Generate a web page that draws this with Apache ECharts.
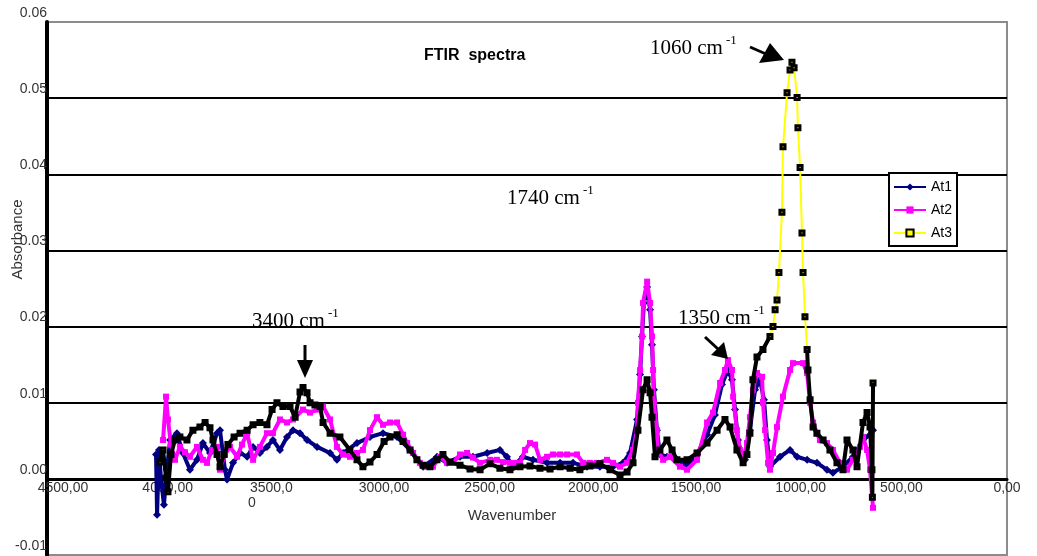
<!DOCTYPE html>
<html>
<head>
<meta charset="utf-8">
<script src="https://cdn.jsdelivr.net/npm/echarts@6/dist/echarts.min.js"></script>
<style>
html,body{margin:0;padding:0;background:#ffffff;}
#chart{width:1037px;height:556px;}
</style>
</head>
<body>
<div id="chart"></div>
<script>
// ---------- data ----------
const seriesNames = ['At1', 'At2', 'At3'];

const at1Wave = [
  3989,3984,3975,3966,3952,3938,3923,3891,3863,3830,
  3797,3769,3736,3703,3689,3666,3656,3628,3595,3562,
  3534,3502,3469,3441,3408,3375,3347,3314,3281,3234,
  3173,3141,3112,3047,2986,2925,2859,2798,2737,2672,
  2625,2564,2503,2437,2377,2344,2316,2269,2222,2156,
  2095,2034,1969,1908,1847,1800,1767,1734,1720,1711,
  1702,1687,1673,1664,1655,1641,1627,1594,1547,1500,
  1453,1406,1369,1336,1308,1289,1275,1261,1242,1228,
  1205,1181,1158,1139,1125,1111,1064,1017,984,937,
  891,844,816,769,722,675,642,628
];
const at1Abs = [
  0.0032,-0.0047,0.0038,0.0001,-0.0034,0.0012,0.0051,0.0060,0.0034,0.0012,
  0.0025,0.0047,0.0034,0.0060,0.0064,0.0012,-0.0001,0.0021,0.0034,0.0029,
  0.0042,0.0034,0.0042,0.0051,0.0038,0.0055,0.0064,0.0060,0.0051,0.0042,
  0.0034,0.0025,0.0034,0.0047,0.0055,0.0060,0.0055,0.0038,0.0016,0.0029,
  0.0021,0.0029,0.0029,0.0034,0.0038,0.0029,0.0016,0.0029,0.0025,0.0021,
  0.0021,0.0021,0.0016,0.0016,0.0016,0.0021,0.0034,0.0078,0.0137,0.0187,
  0.0231,0.0252,0.0222,0.0176,0.0117,0.0064,0.0032,0.0029,0.0025,0.0018,
  0.0032,0.0058,0.0084,0.0124,0.0143,0.0130,0.0091,0.0051,0.0029,0.0025,
  0.0064,0.0117,0.0130,0.0104,0.0051,0.0016,0.0029,0.0038,0.0029,0.0025,
  0.0021,0.0012,0.0008,0.0016,0.0029,0.0051,0.0058,0.0064
];

const at2Wave = [
  3956,3942,3933,3919,3900,3877,3853,3830,3797,3769,
  3750,3727,3703,3689,3666,3642,3609,3586,3562,3534,
  3502,3469,3441,3408,3375,3347,3300,3267,3234,3206,
  3173,3141,3112,3080,3047,3019,2986,2953,2925,2892,
  2859,2831,2812,2784,2752,2719,2691,2658,2625,2597,
  2564,2531,2503,2470,2423,2391,2362,2330,2302,2283,
  2259,2236,2212,2189,2156,2128,2095,2062,2016,1987,
  1955,1922,1875,1847,1814,1781,1753,1734,1730,1720,
  1711,1706,1687,1673,1664,1659,1655,1641,1636,1612,
  1580,1533,1500,1453,1406,1378,1345,1322,1308,1289,
  1284,1266,1252,1237,1219,1205,1191,1172,1148,1144,
  1134,1120,1111,1097,1078,1050,1017,1003,956,937,
  923,909,891,877,844,816,783,750,722,689,
  675,656,642,628
];
const at2Abs = [
  0.0051,0.0108,0.0078,0.0045,0.0025,0.0042,0.0035,0.0029,0.0042,0.0025,
  0.0021,0.0038,0.0042,0.0012,0.0032,0.0042,0.0029,0.0045,0.0060,0.0025,
  0.0042,0.0060,0.0060,0.0078,0.0074,0.0078,0.0091,0.0087,0.0091,0.0095,
  0.0078,0.0042,0.0032,0.0029,0.0034,0.0038,0.0064,0.0081,0.0071,0.0074,
  0.0074,0.0058,0.0047,0.0034,0.0021,0.0016,0.0016,0.0029,0.0021,0.0021,
  0.0032,0.0034,0.0028,0.0021,0.0025,0.0025,0.0022,0.0021,0.0021,0.0021,
  0.0038,0.0047,0.0045,0.0025,0.0029,0.0032,0.0032,0.0032,0.0032,0.0021,
  0.0021,0.0021,0.0025,0.0021,0.0016,0.0021,0.0038,0.0064,0.0100,0.0143,
  0.0187,0.0231,0.0259,0.0231,0.0187,0.0143,0.0100,0.0064,0.0038,0.0025,
  0.0029,0.0016,0.0012,0.0025,0.0074,0.0087,0.0126,0.0143,0.0156,0.0143,
  0.0108,0.0064,0.0038,0.0025,0.0047,0.0081,0.0117,0.0139,0.0134,0.0100,
  0.0064,0.0021,0.0012,0.0034,0.0068,0.0108,0.0143,0.0152,0.0152,0.0139,
  0.0100,0.0074,0.0060,0.0051,0.0047,0.0038,0.0021,0.0012,0.0025,0.0042,
  0.0055,0.0038,0.0012,-0.0038
];

const at3Wave = [
  3970,3956,3942,3933,3919,3900,3877,3844,3816,3783,
  3759,3736,3722,3703,3689,3670,3652,3623,3595,3562,
  3534,3502,3469,3445,3422,3394,3361,3337,3314,3300,
  3281,3267,3244,3220,3206,3173,3127,3080,3047,3019,
  2986,2953,2920,2892,2859,2831,2798,2766,2737,2705,
  2672,2644,2611,2564,2517,2470,2423,2377,2330,2283,
  2236,2189,2142,2095,2048,2002,1955,1908,1861,1814,
  1781,1753,1730,1706,1687,1673,1664,1650,1627,1594,
  1570,1547,1500,1453,1406,1359,1322,1298,1266,1237,
  1219,1205,1191,1172,1144,1111,1097,1087,1078,1069,
  1055,1050,1031,1017,1008,998,984,980,970,961,
  956,947,937,933,923,909,891,862,830,797,
  769,750,722,703,675,656,642,633,631,628
];
const at3Abs = [
  0.0022,0.0038,0.0001,-0.0017,0.0032,0.0051,0.0055,0.0051,0.0064,0.0068,
  0.0074,0.0067,0.0051,0.0032,0.0016,0.0032,0.0045,0.0055,0.0060,0.0064,
  0.0071,0.0074,0.0071,0.0091,0.0100,0.0095,0.0095,0.0081,0.0114,0.0120,
  0.0113,0.0100,0.0097,0.0095,0.0074,0.0060,0.0055,0.0038,0.0025,0.0016,
  0.0022,0.0032,0.0049,0.0055,0.0058,0.0049,0.0038,0.0025,0.0018,0.0016,
  0.0025,0.0032,0.0022,0.0018,0.0013,0.0012,0.0020,0.0014,0.0012,0.0016,
  0.0017,0.0014,0.0013,0.0016,0.0014,0.0012,0.0017,0.0020,0.0012,0.0005,
  0.0009,0.0021,0.0064,0.0117,0.0130,0.0113,0.0081,0.0029,0.0038,0.0051,
  0.0038,0.0025,0.0025,0.0034,0.0047,0.0064,0.0078,0.0068,0.0038,0.0021,
  0.0032,0.0060,0.0130,0.0160,0.0170,0.0187,0.0200,0.0222,0.0235,0.0271,
  0.0350,0.0436,0.0507,0.0537,0.0547,0.0540,0.0501,0.0461,0.0409,0.0323,
  0.0271,0.0213,0.0170,0.0143,0.0104,0.0068,0.0060,0.0051,0.0038,0.0021,
  0.0012,0.0051,0.0038,0.0016,0.0074,0.0087,0.0068,0.0012,-0.0024,0.0126
];

// ---------- chart ----------
const pairs = (w, a) => w.map((v, i) => [v, a[i]]);
const SANS = 'Liberation Sans, Arial, sans-serif';
const SERIF = 'Liberation Serif, Times New Roman, serif';

// horizontal nudge (px) of each wavenumber tick label, as drawn in the reference
const labelNudge = { 4500: 16, 4000: 14, 3500: 11, 3000: 17, 2500: 16, 2000: 13, 1500: 9, 1000: 7, 500: 1, 0: 0 };
const nudgeRich = {};
for (let d = 0; d <= 20; d++) nudgeRich['n' + d] = { padding: [0, 0, 0, 2 * d] };

function annot(x, y, main) {
  return {
    type: 'text', left: x, top: y, z: 100,
    style: {
      text: '{m|' + main + '}{s|-1}',
      rich: {
        m: { fontFamily: SERIF, fontSize: 21, fill: '#000', lineHeight: 25, verticalAlign: 'bottom' },
        s: { fontFamily: SERIF, fontSize: 13, fill: '#000', lineHeight: 25, verticalAlign: 'top', padding: [0, 0, 0, 3] }
      }
    }
  };
}

const chart = echarts.init(document.getElementById('chart'), null, { renderer: 'canvas' });
chart.setOption({
  animation: false,
  backgroundColor: '#ffffff',
  title: {
    text: 'FTIR  spectra', left: 424, top: 48, padding: 0,
    textStyle: { fontFamily: SANS, fontSize: 16, fontWeight: 'bold', color: '#000' }
  },
  legend: {
    data: seriesNames, orient: 'vertical', left: 889, top: 173,
    backgroundColor: '#fff', borderColor: '#000', borderWidth: 2, borderRadius: 0,
    padding: [6, 5, 5, 4], itemGap: 7, itemWidth: 32, itemHeight: 9,
    textStyle: { fontFamily: SANS, fontSize: 14, color: '#000', lineHeight: 16 }
  },
  grid: {
    left: 47, right: 30, top: 22, bottom: 1, show: true,
    borderColor: '#8c8c8c', borderWidth: 2,
    containLabel: false, outerBoundsMode: 'none'
  },
  xAxis: {
    type: 'value', min: 0, max: 4500, interval: 500, inverse: true,
    name: 'Wavenumber', nameLocation: 'middle', nameGap: -47, nameMoveOverlap: false,
    nameTextStyle: { fontFamily: SANS, fontSize: 15, color: '#333', padding: [0, 30, 0, 0] },
    axisLine: { onZero: true, lineStyle: { color: '#000', width: 3 } },
    axisTick: { show: false },
    splitLine: { show: false },
    axisLabel: {
      margin: -74, fontFamily: SANS, fontSize: 14, color: '#333', verticalAlign: 'top', lineHeight: 15,
      rich: nudgeRich,
      formatter: v => {
        const tag = 'n' + (labelNudge[v] || 0);
        if (v === 3500) return '{' + tag + '|3500,0}\n{' + tag + '|0          }';
        return '{' + tag + '|' + v.toFixed(2).replace('.', ',') + '}';
      }
    }
  },
  yAxis: {
    type: 'value', min: -0.01, max: 0.06, interval: 0.01,
    name: 'Absorbance', nameLocation: 'middle', nameGap: 22, nameMoveOverlap: false,
    nameTextStyle: { fontFamily: SANS, fontSize: 15, color: '#333', padding: [0, 0, 0, 98] },
    axisLine: { show: true, onZero: false, lineStyle: { color: '#000', width: 4 } },
    axisTick: { show: false },
    splitLine: { show: true, lineStyle: { color: ['#8c8c8c', '#000', '#000', '#000', '#000', '#000', '#000', '#8c8c8c'], width: 2 } },
    axisLabel: {
      margin: 0, fontFamily: SANS, fontSize: 14, color: '#333',
      verticalAlign: 'bottom', padding: [0, 0, 2, 0],
      formatter: v => v.toFixed(2)
    }
  },
  series: [
    {
      name: 'At1', type: 'line', data: pairs(at1Wave, at1Abs), z: 2,
      symbol: 'diamond', symbolSize: 8,
      lineStyle: { color: '#000080', width: 4 }, itemStyle: { color: '#000080' },
      emphasis: { disabled: true }
    },
    {
      name: 'At2', type: 'line', data: pairs(at2Wave, at2Abs), z: 3,
      symbol: 'rect', symbolSize: 6,
      lineStyle: { color: '#ff00ff', width: 4 }, itemStyle: { color: '#ff00ff' },
      emphasis: { disabled: true }
    },
    {
      name: 'At3', type: 'line', data: pairs(at3Wave, at3Abs), z: 4,
      symbol: 'rect', symbolSize: 4,
      lineStyle: { color: '#ffff00', width: 2 },
      itemStyle: { color: '#ffff00', borderColor: '#000', borderWidth: 3 },
      emphasis: { disabled: true }
    },
    {
      name: 'At3 band', type: 'line', silent: true, z: 5,
      data: at3Wave.map((w, i) => [w, at3Abs[i] < 0.019 ? at3Abs[i] : null]),
      connectNulls: false, symbol: 'none',
      lineStyle: { color: '#000', width: 4 },
      emphasis: { disabled: true }
    }
  ],
  graphic: [
    annot(650, 34, '1060 cm'),
    annot(507, 184, '1740 cm'),
    annot(252, 307, '3400 cm'),
    annot(678, 304, '1350 cm'),
    { type: 'line', z: 100, shape: { x1: 750, y1: 47, x2: 766, y2: 54 }, style: { stroke: '#000', lineWidth: 3 } },
    { type: 'polygon', z: 100, shape: { points: [[784, 60], [759, 63], [770, 43]] }, style: { fill: '#000' } },
    { type: 'line', z: 100, shape: { x1: 305, y1: 345, x2: 305, y2: 362 }, style: { stroke: '#000', lineWidth: 3 } },
    { type: 'polygon', z: 100, shape: { points: [[305, 378], [297, 360], [313, 360]] }, style: { fill: '#000' } },
    { type: 'line', z: 100, shape: { x1: 705, y1: 337, x2: 718, y2: 349 }, style: { stroke: '#000', lineWidth: 3 } },
    { type: 'polygon', z: 100, shape: { points: [[728, 359], [711, 355], [724, 342]] }, style: { fill: '#000' } }
  ]
});
</script>
</body>
</html>
